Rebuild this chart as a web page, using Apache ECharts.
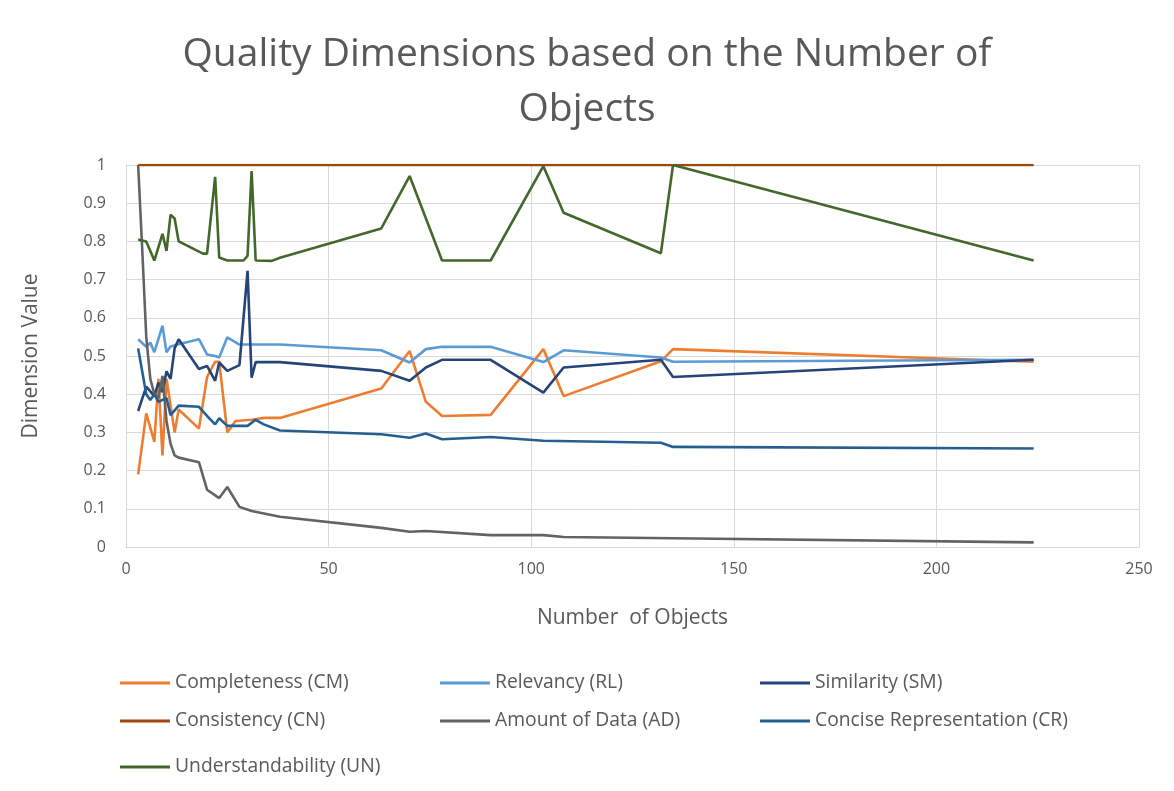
<!DOCTYPE html>
<html>
<head>
<meta charset="utf-8">
<script src="https://cdn.jsdelivr.net/npm/echarts@6/dist/echarts.min.js"></script>
<style>
html,body{margin:0;padding:0;background:#fff;}
#chart{width:1174px;height:791px;}
</style>
</head>
<body>
<div id="chart"></div>
<script>
// ---- Data ----
const titleText = 'Quality Dimensions based on the Number of\nObjects';
const xTicks = [0, 50, 100, 150, 200, 250];
const yTicks = [0, 0.1, 0.2, 0.3, 0.4, 0.5, 0.6, 0.7, 0.8, 0.9, 1];

const cmX = [3,5,7,8,9,10,12,13,18,20,22,23,25,27,31,34,38,63,70,74,78,90,103,108,132,135,224];
const cmY = [0.19,0.35,0.275,0.44,0.24,0.44,0.30,0.36,0.31,0.445,0.485,0.485,0.30,0.33,0.333,0.338,0.338,0.415,0.513,0.38,0.343,0.346,0.518,0.395,0.486,0.518,0.485];

const rlX = [3,5,6,7,9,10,11,13,18,20,22,23,25,28,38,63,70,74,78,90,103,108,132,135,224];
const rlY = [0.544,0.524,0.535,0.51,0.579,0.51,0.525,0.531,0.544,0.504,0.5,0.496,0.549,0.53,0.53,0.515,0.483,0.518,0.524,0.524,0.484,0.515,0.496,0.485,0.49];

const smX = [3,5,7,8,9,10,11,12,13,18,20,22,23,25,28,30,31,32,38,63,70,74,78,90,103,108,132,135,224];
const smY = [0.356,0.42,0.395,0.43,0.405,0.46,0.44,0.52,0.544,0.466,0.474,0.435,0.483,0.461,0.476,0.723,0.443,0.484,0.484,0.461,0.435,0.47,0.49,0.49,0.404,0.47,0.49,0.445,0.49];

const cnX = [3,224];
const cnY = [1,1];

const adX = [3,4,5,6,7,8,9,10,11,12,13,18,20,23,25,28,31,38,63,70,74,90,103,108,135,224];
const adY = [1.0,0.78,0.55,0.44,0.40,0.39,0.448,0.33,0.27,0.24,0.234,0.222,0.15,0.128,0.157,0.105,0.094,0.079,0.05,0.04,0.042,0.031,0.031,0.026,0.023,0.012];

const crX = [3,5,6,7,8,10,11,13,18,20,22,23,25,30,32,34,38,63,70,74,78,90,103,132,135,224];
const crY = [0.52,0.40,0.385,0.40,0.38,0.39,0.345,0.37,0.367,0.343,0.321,0.337,0.317,0.317,0.333,0.321,0.305,0.295,0.286,0.297,0.282,0.288,0.278,0.273,0.262,0.258];

const unX = [3,5,7,9,10,11,12,13,19,20,22,23,25,29,30,31,32,36,38,63,70,78,90,103,108,132,135,224];
const unY = [0.805,0.80,0.75,0.82,0.775,0.87,0.86,0.80,0.768,0.768,0.969,0.758,0.75,0.75,0.762,0.984,0.75,0.749,0.757,0.834,0.971,0.75,0.75,0.997,0.875,0.769,1.0,0.75];

const seriesNames = ['Completeness (CM)','Relevancy (RL)','Similarity (SM)','Consistency (CN)','Amount of Data (AD)','Concise Representation (CR)','Understandability (UN)'];
const seriesColors = ['#ED7D31','#5B9BD5','#264478','#9E480E','#636363','#255E91','#43682B'];
const seriesXs = [cmX, rlX, smX, cnX, adX, crX, unX];
const seriesYs = [cmY, rlY, smY, cnY, adY, crY, unY];

// ---- Chart ----
const FONT = 'Open Sans';
const TXT = '#595959';
const GRIDC = '#d9d9d9';

const series = seriesNames.map((name, i) => ({
  name: name,
  type: 'line',
  data: seriesXs[i].map((x, j) => [x, seriesYs[i][j]]),
  showSymbol: false,
  symbol: 'none',
  lineStyle: { color: seriesColors[i], width: 2.6 },
  itemStyle: { color: seriesColors[i] },
  emphasis: { disabled: true },
  animation: false,
  z: 2 + i
}));

// legend slot positions: [left, centerY] for each series, in series order
const legendLeft = [120, 440, 760, 120, 440, 760, 120];
const legendRowY = [683, 683, 683, 721, 721, 721, 767];

const legends = seriesNames.map((name, i) => ({
  left: legendLeft[i],
  top: legendRowY[i] - 12,
  padding: 0,
  itemWidth: 50,
  itemHeight: 3,
  itemGap: 0,
  icon: 'rect',
  data: [name],
  textStyle: { fontFamily: FONT, fontSize: 19.3, color: TXT, height: 24, lineHeight: 24 },
  selectedMode: false
}));

const chart = echarts.init(document.getElementById('chart'), null, { renderer: 'canvas' });
chart.setOption({
  backgroundColor: '#ffffff',
  animation: false,
  title: {
    text: titleText,
    left: 'center',
    top: 22,
    textStyle: { fontFamily: FONT, fontSize: 39, fontWeight: 'normal', color: TXT, lineHeight: 55 }
  },
  grid: { left: 126, right: 35, top: 165, bottom: 244 },
  legend: legends,
  xAxis: {
    type: 'value',
    min: xTicks[0],
    max: xTicks[xTicks.length - 1],
    interval: xTicks[1] - xTicks[0],
    name: 'Number  of Objects',
    nameLocation: 'middle',
    nameGap: 61,
    nameTextStyle: { fontFamily: FONT, fontSize: 21, color: TXT },
    axisLine: { show: true, lineStyle: { color: GRIDC, width: 1 } },
    axisTick: { show: false },
    axisLabel: { fontFamily: FONT, fontSize: 16, color: TXT, margin: 14 },
    splitLine: { show: true, lineStyle: { color: GRIDC, width: 1 } }
  },
  yAxis: {
    type: 'value',
    min: yTicks[0],
    max: yTicks[yTicks.length - 1],
    interval: 0.1,
    name: 'Dimension Value',
    nameLocation: 'middle',
    nameRotate: 90,
    nameGap: 84,
    nameTextStyle: { fontFamily: FONT, fontSize: 21, color: TXT },
    axisLine: { show: true, lineStyle: { color: GRIDC, width: 1 } },
    axisTick: { show: false },
    axisLabel: {
      fontFamily: FONT, fontSize: 16, color: TXT, margin: 20,
      formatter: v => String(Math.round(v * 10) / 10)
    },
    splitLine: { show: true, lineStyle: { color: GRIDC, width: 1 } }
  },
  series: series
});
</script>
</body>
</html>
